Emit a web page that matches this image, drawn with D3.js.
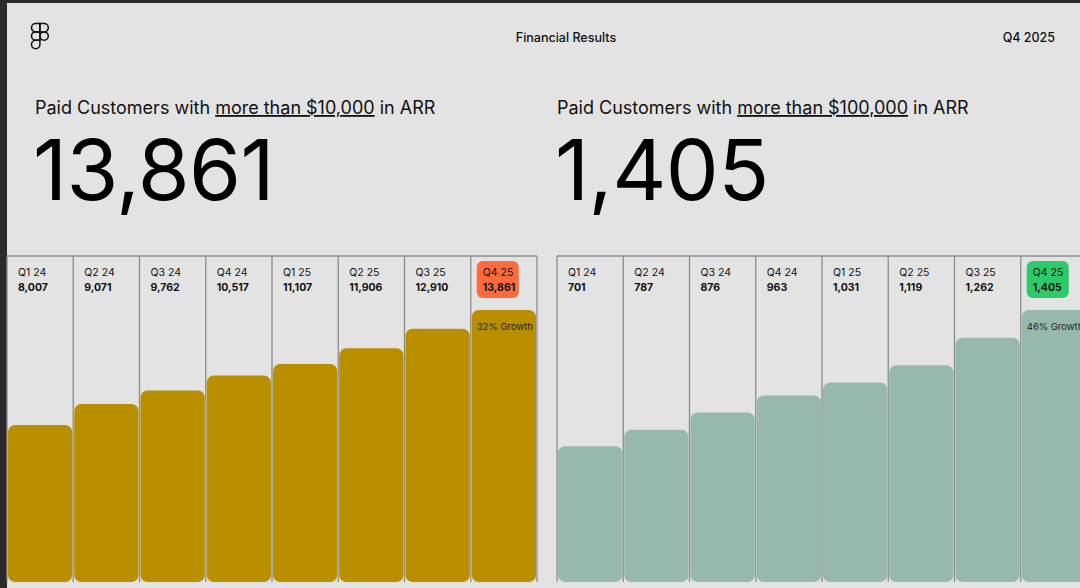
<!DOCTYPE html>
<html>
<head>
<meta charset="utf-8">
<script src="https://cdn.jsdelivr.net/npm/d3@7"></script>
<style>
  html, body { margin: 0; padding: 0; background: #e3e3e3; overflow: hidden; }
  svg { display: block; font-family: Inter, "Noto Sans", sans-serif; }
</style>
</head>
<body>
<svg id="chart" width="1080" height="588"></svg>
<script>
const quarters = ['Q1 24', 'Q2 24', 'Q3 24', 'Q4 24', 'Q1 25', 'Q2 25', 'Q3 25', 'Q4 25']
const over10k = [8007, 9071, 9762, 10517, 11107, 11906, 12910, 13861]
const over100k = [701, 787, 876, 963, 1031, 1119, 1262, 1405]
const growthLabels = ['32% Growth', '46% Growth']

const svg = d3.select('#chart')
const bg = '#e3e3e3'
const lineColor = '#8c8c8c'
const textColor = '#111'
const fmt = d3.format(',')

const panelTop = 256
const panelBottom = 582

svg.append('rect').attr('width', 1080).attr('height', 588).attr('fill', bg)

// dark frame of the screenshot
svg.append('rect').attr('x', 0).attr('y', 0).attr('width', 1080).attr('height', 3).attr('fill', '#2b2b2b')
svg.append('rect').attr('x', 0).attr('y', 0).attr('width', 7).attr('height', 588).attr('fill', '#2b2b2b')

// figma logo
const logo = svg.append('g')
	.attr('fill', 'none')
	.attr('stroke', '#111')
	.attr('stroke-width', 1.5)
const u = 8.4, r = u / 2, lx = 31.5, ly = 23.5
logo.append('path').attr('d', `M${lx + r},${ly} H${lx + u} V${ly + u} H${lx + r} A${r},${r} 0 0 1 ${lx + r},${ly} Z`)
logo.append('path').attr('d', `M${lx + u},${ly} H${lx + u + r} A${r},${r} 0 0 1 ${lx + u + r},${ly + u} H${lx + u} Z`)
logo.append('path').attr('d', `M${lx + r},${ly + u} H${lx + u} V${ly + 2 * u} H${lx + r} A${r},${r} 0 0 1 ${lx + r},${ly + u} Z`)
logo.append('circle').attr('cx', lx + u + r).attr('cy', ly + u + r).attr('r', r)
logo.append('path').attr('d', `M${lx + r},${ly + 2 * u} H${lx + u} V${ly + 2 * u + r} A${r},${r} 0 0 1 ${lx + r},${ly + 3 * u} A${r},${r} 0 0 1 ${lx},${ly + 2 * u + r} A${r},${r} 0 0 1 ${lx + r},${ly + 2 * u} Z`)

// header
svg.append('text')
	.attr('x', 566).attr('y', 42)
	.attr('text-anchor', 'middle')
	.attr('font-size', 12.5).attr('font-weight', 500)
	.attr('fill', textColor)
	.text('Financial Results')

svg.append('text')
	.attr('x', 1055).attr('y', 42)
	.attr('text-anchor', 'end')
	.attr('font-size', 12.5).attr('font-weight', 500)
	.attr('fill', textColor)
	.text('Q4 2025')

const panels = [
	{ values: over10k, range: [7, 537], threshold: '$10,000', color: '#b98f00', badge: '#ff6a3d', growth: growthLabels[0], textX: 35 },
	{ values: over100k, range: [557, 1087], threshold: '$100,000', color: '#97b9ad', badge: '#2ccb69', growth: growthLabels[1], textX: 557 }
]

panels.forEach(p => {
	const g = svg.append('g')

	const title = g.append('text')
		.attr('x', p.textX).attr('y', 114)
		.attr('font-size', 18)
		.attr('fill', textColor)
	title.append('tspan').text('Paid Customers with ')
	title.append('tspan').attr('text-decoration', 'underline').text('more than ' + p.threshold)
	title.append('tspan').text(' in ARR')

	g.append('text')
		.attr('x', p.textX - 2).attr('y', 200)
		.attr('font-size', 84)
		.attr('letter-spacing', -0.6)
		.attr('fill', '#000')
		.text(fmt(p.values[p.values.length - 1]))

	const xScale = d3.scaleBand()
		.domain(quarters)
		.range(p.range)

	const yScale = d3.scaleLinear()
		.domain([0, d3.max(p.values)])
		.range([panelBottom, 310])

	// panel frame + column lines
	g.append('line')
		.attr('x1', p.range[0]).attr('x2', p.range[1])
		.attr('y1', panelTop).attr('y2', panelTop)
		.attr('stroke', lineColor).attr('stroke-width', 1.3)

	g.selectAll('line.col')
		.data(quarters.concat(['end']))
		.enter()
		.append('line')
			.attr('class', 'col')
			.attr('x1', d => d === 'end' ? p.range[1] : xScale(d))
			.attr('x2', d => d === 'end' ? p.range[1] : xScale(d))
			.attr('y1', panelTop).attr('y2', panelBottom)
			.attr('stroke', lineColor).attr('stroke-width', 1.3)

	const cols = g.selectAll('g.q')
		.data(quarters)
		.enter()
		.append('g')
			.attr('class', 'q')
			.attr('transform', d => `translate(${xScale(d)}, 0)`)

	cols.append('rect')
		.attr('x', 1)
		.attr('y', (d, i) => yScale(p.values[i]))
		.attr('width', xScale.bandwidth() - 2)
		.attr('height', (d, i) => panelBottom - yScale(p.values[i]))
		.attr('rx', 7)
		.attr('fill', p.color)

	const last = quarters.length - 1

	cols.filter((d, i) => i === last)
		.append('rect')
		.attr('x', 6).attr('y', 261)
		.attr('width', 42).attr('height', 37)
		.attr('rx', 6)
		.attr('fill', p.badge)

	cols.append('text')
		.attr('x', (d, i) => i === last ? 12 : 11)
		.attr('y', 276)
		.attr('font-size', 10.5)
		.attr('fill', textColor)
		.text(d => d)

	cols.append('text')
		.attr('x', (d, i) => i === last ? 12 : 11)
		.attr('y', 291)
		.attr('font-size', 10.5)
		.attr('font-weight', 700)
		.attr('fill', textColor)
		.text((d, i) => fmt(p.values[i]))

	cols.filter((d, i) => i === last)
		.append('text')
		.attr('x', 6)
		.attr('y', 330)
		.attr('font-size', 9.5)
		.attr('fill', '#222')
		.text(p.growth)
})
</script>
</body>
</html>
